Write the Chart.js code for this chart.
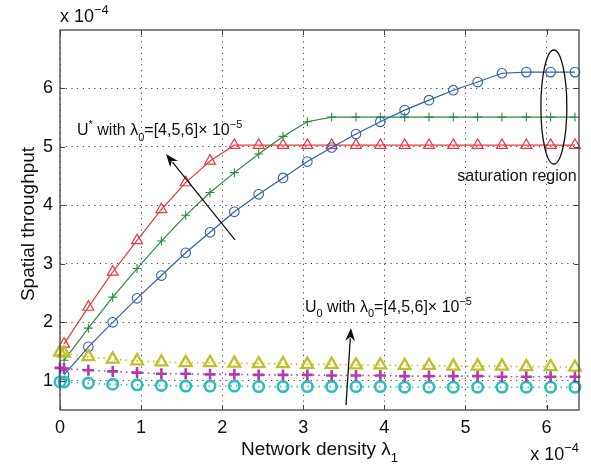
<!DOCTYPE html>
<html>
<head>
<meta charset="utf-8">
<script src="https://cdn.jsdelivr.net/npm/chart.js@4.4.1/dist/chart.umd.min.js"></script>
<style>
  body { margin: 0; background: #fff; }
  #wrap { width: 591px; height: 466px; }
</style>
</head>
<body>
<div id="wrap"><canvas id="thrChart"></canvas></div>
<script>
// network density lambda_1 (x 1e-4)
const density = [0, 0.05, 0.35, 0.65, 0.95, 1.25, 1.55, 1.85, 2.15, 2.45, 2.75, 3.05,
                 3.35, 3.65, 3.95, 4.25, 4.55, 4.85, 5.15, 5.45, 5.75, 6.05, 6.35];

// U* (optimal), lambda_0 = 4,5,6 x 1e-5  (values x 1e-4)
const uStar4 = [null, 1.63, 2.26, 2.86, 3.40, 3.93, 4.39, 4.76, 5.03, 5.03, 5.03, 5.03,
                5.03, 5.03, 5.03, 5.03, 5.03, 5.03, 5.03, 5.03, 5.03, 5.03, 5.03];
const uStar5 = [null, 1.35, 1.90, 2.43, 2.92, 3.39, 3.83, 4.22, 4.56, 4.88, 5.18, 5.43,
                5.51, 5.51, 5.51, 5.51, 5.51, 5.51, 5.51, 5.51, 5.51, 5.51, 5.51];
const uStar6 = [null, 1.10, 1.58, 2.00, 2.41, 2.80, 3.19, 3.54, 3.89, 4.19, 4.47, 4.75,
                4.99, 5.22, 5.43, 5.63, 5.80, 5.97, 6.11, 6.26, 6.28, 6.28, 6.28];

// U0, lambda_0 = 4,5,6 x 1e-5
const u0_4 = [1.49, 1.47, 1.41, 1.37, 1.34, 1.32, 1.31, 1.31, 1.30, 1.29, 1.29, 1.28,
              1.28, 1.27, 1.27, 1.26, 1.26, 1.25, 1.25, 1.25, 1.24, 1.24, 1.23];
const u0_5 = [1.22, 1.21, 1.18, 1.16, 1.14, 1.12, 1.12, 1.11, 1.11, 1.10, 1.10, 1.10,
              1.09, 1.09, 1.09, 1.08, 1.08, 1.08, 1.08, 1.07, 1.07, 1.07, 1.07];
const u0_6 = [0.98, 0.98, 0.96, 0.94, 0.93, 0.92, 0.91, 0.91, 0.91, 0.90, 0.90, 0.90,
              0.90, 0.90, 0.90, 0.89, 0.89, 0.89, 0.89, 0.89, 0.89, 0.89, 0.89];

const xTicks = [0, 1, 2, 3, 4, 5, 6];
const yTicks = [1, 2, 3, 4, 5, 6];

const FONT = '"Liberation Sans", Arial, Helvetica, sans-serif';

function pts(vals) {
    return density.map((d, i) => ({ x: d, y: vals[i] }));
}

function series(vals, color, style, radius, lw, dotted) {
    return {
        data: pts(vals),
        borderColor: color,
        borderWidth: dotted ? 1.6 : 1.2,
        borderDash: dotted ? [1.5, 4] : [],
        pointStyle: style,
        pointRadius: radius,
        pointBorderWidth: lw,
        pointBorderColor: color,
        pointBackgroundColor: 'rgba(0,0,0,0)',
        pointHoverRadius: radius,
        tension: 0,
        fill: false,
        clip: false
    };
}

// draws a string made of normal / sup / sub pieces starting at x, baseline y
function richText(ctx, parts, x, y, size) {
    let cx = x;
    parts.forEach(([txt, mode]) => {
        const s = mode === 'n' ? size : Math.round(size * 0.7);
        const dy = mode === 'sup' ? -size * 0.45 : (mode === 'sub' ? size * 0.35 : 0);
        ctx.font = s + 'px ' + FONT;
        ctx.fillText(txt, cx, y + dy);
        cx += ctx.measureText(txt).width;
    });
    return cx - x;
}

function richWidth(ctx, parts, size) {
    let w = 0;
    parts.forEach(([txt, mode]) => {
        const s = mode === 'n' ? size : Math.round(size * 0.7);
        ctx.font = s + 'px ' + FONT;
        w += ctx.measureText(txt).width;
    });
    return w;
}

function arrow(ctx, x1, y1, x2, y2) {
    const ang = Math.atan2(y2 - y1, x2 - x1);
    const hl = 13, hw = 5;
    ctx.beginPath();
    ctx.moveTo(x1, y1);
    ctx.lineTo(x2 - Math.cos(ang) * hl * 0.8, y2 - Math.sin(ang) * hl * 0.8);
    ctx.stroke();
    ctx.beginPath();
    ctx.moveTo(x2, y2);
    ctx.lineTo(x2 - Math.cos(ang) * hl - Math.sin(ang) * hw, y2 - Math.sin(ang) * hl + Math.cos(ang) * hw);
    ctx.lineTo(x2 - Math.cos(ang) * hl * 0.7, y2 - Math.sin(ang) * hl * 0.7);
    ctx.lineTo(x2 - Math.cos(ang) * hl + Math.sin(ang) * hw, y2 - Math.sin(ang) * hl - Math.cos(ang) * hw);
    ctx.closePath();
    ctx.fill();
}

const frame = {
    id: 'frame',
    afterDraw(chart) {
        const { ctx, chartArea: a, scales: { x, y } } = chart;
        ctx.save();
        ctx.strokeStyle = '#444';
        ctx.lineWidth = 1.3;
        ctx.strokeRect(a.left, a.top, a.right - a.left, a.bottom - a.top);
        // inward tick marks on all four sides
        ctx.lineWidth = 1;
        const tl = 5;
        ctx.beginPath();
        xTicks.forEach(v => {
            const px = Math.round(x.getPixelForValue(v)) + 0.5;
            ctx.moveTo(px, a.bottom); ctx.lineTo(px, a.bottom - tl);
            ctx.moveTo(px, a.top); ctx.lineTo(px, a.top + tl);
        });
        yTicks.forEach(v => {
            const py = Math.round(y.getPixelForValue(v)) + 0.5;
            ctx.moveTo(a.left, py); ctx.lineTo(a.left + tl, py);
            ctx.moveTo(a.right, py); ctx.lineTo(a.right - tl, py);
        });
        ctx.stroke();

        ctx.fillStyle = '#111';
        ctx.textBaseline = 'alphabetic';
        ctx.textAlign = 'left';

        // exponent labels
        richText(ctx, [['x 10', 'n'], ['\u22124', 'sup']], a.left, a.top - 8, 18);
        const expW = richWidth(ctx, [['x 10', 'n'], ['\u22124', 'sup']], 18);
        richText(ctx, [['x 10', 'n'], ['\u22124', 'sup']], a.right - expW, 460, 18);

        // x axis title
        const xt = [['Network density \u03bb', 'n'], ['1', 'sub']];
        const xw = richWidth(ctx, xt, 19);
        richText(ctx, xt, (a.left + a.right) / 2 - xw / 2, 455, 19);

        // y axis title
        ctx.save();
        ctx.translate(34, (a.top + a.bottom) / 2 + 4);
        ctx.rotate(-Math.PI / 2);
        ctx.font = '19px ' + FONT;
        ctx.textAlign = 'center';
        ctx.fillText('Spatial throughput', 0, 0);
        ctx.restore();

        // annotations
        ctx.textAlign = 'left';
        richText(ctx, [['U', 'n'], ['*', 'sup'], [' with \u03bb', 'n'], ['0', 'sub'],
                       ['=[4,5,6]\u00d7 10', 'n'], ['\u22125', 'sup']],
                 x.getPixelForValue(0.21), y.getPixelForValue(5.20), 16);
        richText(ctx, [['U', 'n'], ['0', 'sub'], [' with \u03bb', 'n'], ['0', 'sub'],
                       ['=[4,5,6]\u00d7 10', 'n'], ['\u22125', 'sup']],
                 x.getPixelForValue(3.02), y.getPixelForValue(2.18), 16);
        ctx.font = '16px ' + FONT;
        ctx.fillText('saturation region', x.getPixelForValue(4.9), y.getPixelForValue(4.42));

        ctx.strokeStyle = '#111';
        ctx.fillStyle = '#111';
        ctx.lineWidth = 1.3;
        arrow(ctx, x.getPixelForValue(2.158), y.getPixelForValue(3.41),
                   x.getPixelForValue(1.307), y.getPixelForValue(4.88));
        arrow(ctx, x.getPixelForValue(3.527), y.getPixelForValue(0.586),
                   x.getPixelForValue(3.588), y.getPixelForValue(1.903));

        // saturation ellipse
        const ex = x.getPixelForValue(6.09), ey = y.getPixelForValue(5.683);
        const rx = x.getPixelForValue(6.09 + 0.16) - ex;
        const ry = ey - y.getPixelForValue(5.683 + 0.975);
        ctx.beginPath();
        ctx.ellipse(ex, ey, rx, ry, 0, 0, Math.PI * 2);
        ctx.stroke();
        ctx.restore();
    }
};

document.addEventListener('DOMContentLoaded', () => {
    const ctx = document.getElementById('thrChart').getContext('2d');
    new Chart(ctx, {
        type: 'line',
        data: {
            datasets: [
                series(u0_4, '#bfbf26', 'triangle', 6.8, 2.3, true),
                series(u0_5, '#b23bb0', 'cross', 5.5, 2.6, true),
                series(u0_6, '#2dbdbd', 'circle', 5.2, 2.6, true),
                series(uStar6, '#2f5fae', 'circle', 4.8, 1.1, false),
                series(uStar5, '#2b8a3e', 'cross', 4.5, 1.1, false),
                series(uStar4, '#e8383d', 'triangle', 6.3, 1.2, false)
            ]
        },
        options: {
            responsive: true,
            maintainAspectRatio: false,
            animation: false,
            layout: { padding: { left: 0, right: 12, top: 30, bottom: 0 } },
            plugins: { legend: { display: false }, tooltip: { enabled: false } },
            scales: {
                x: {
                    type: 'linear',
                    min: 0,
                    max: 6.4,
                    afterBuildTicks: s => { s.ticks = xTicks.map(v => ({ value: v })); },
                    afterFit: s => { s.height = 56; },
                    grid: { color: '#444', lineWidth: 1, drawTicks: false },
                    border: { display: false, dash: [1.2, 4.5] },
                    ticks: { color: '#111', font: { size: 18, family: FONT }, padding: 7, maxRotation: 0 }
                },
                y: {
                    type: 'linear',
                    min: 0.5,
                    max: 7,
                    afterBuildTicks: s => { s.ticks = yTicks.map(v => ({ value: v })); },
                    afterFit: s => { s.width = 60; },
                    grid: { color: '#444', lineWidth: 1, drawTicks: false },
                    border: { display: false, dash: [1.2, 4.5] },
                    ticks: { color: '#111', font: { size: 18, family: FONT }, padding: 7 }
                }
            }
        },
        plugins: [frame]
    });
});
</script>
</body>
</html>
